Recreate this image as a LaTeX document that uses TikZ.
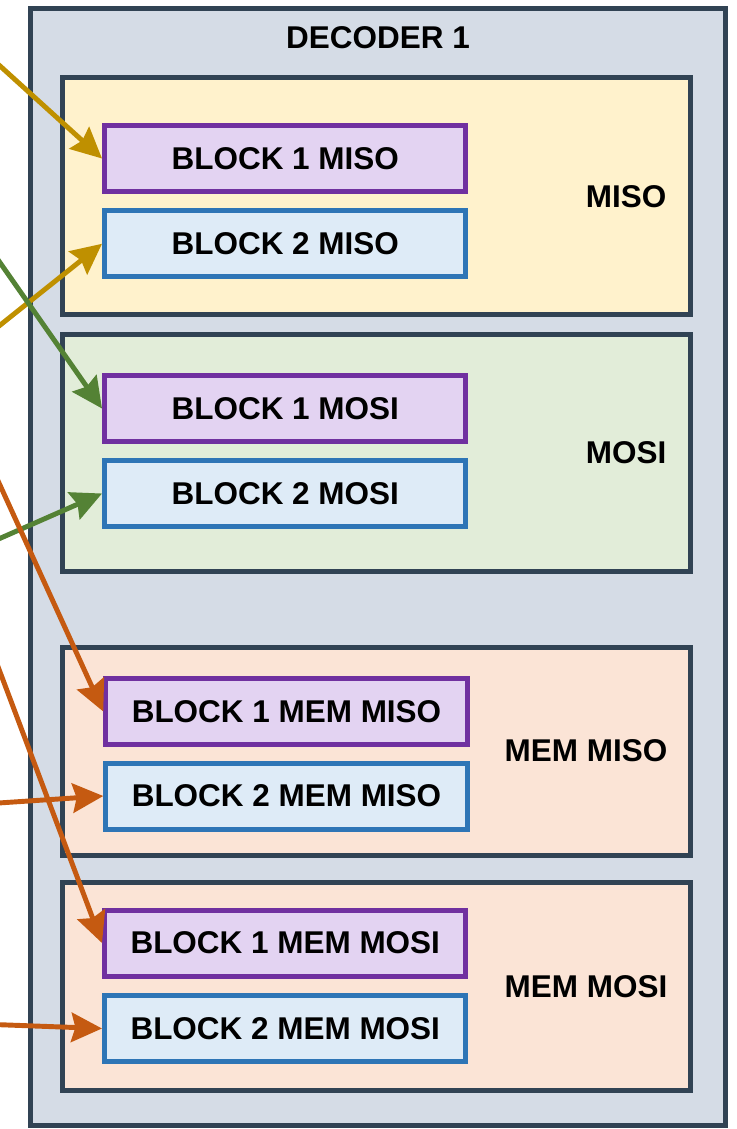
\documentclass[tikz,border=0pt]{standalone}
\usepackage{fontspec}
\setmainfont{Liberation Sans}
\usetikzlibrary{arrows.meta}

\definecolor{edge}{HTML}{314354}
\definecolor{decfill}{HTML}{D5DCE6}
\definecolor{misofill}{HTML}{FFF2CC}
\definecolor{mosifill}{HTML}{E2EDD9}
\definecolor{memfill}{HTML}{FBE4D6}
\definecolor{purpleedge}{HTML}{7030A0}
\definecolor{purplefill}{HTML}{E3D3F2}
\definecolor{blueedge}{HTML}{2E75B6}
\definecolor{bluefill}{HTML}{DEEBF7}
\definecolor{goldline}{HTML}{BF9000}
\definecolor{greenline}{HTML}{548235}
\definecolor{orangeline}{HTML}{C55A11}

\tikzset{
  lbl/.style={font=\fontsize{23.6}{28}\selectfont\bfseries, text=black},
  decoder/.style={draw=edge, fill=decfill, line width=3.75pt, inner sep=0pt,
    minimum width=521.6pt, minimum height=837.75pt},
  group/.style={draw=edge, line width=3.75pt, inner sep=0pt,
    minimum width=471pt},
  blockone/.style={lbl, draw=purpleedge, fill=purplefill, line width=3.75pt,
    inner sep=0pt, minimum width=271.1pt, minimum height=49.5pt},
  blocktwo/.style={lbl, draw=blueedge, fill=bluefill, line width=3.75pt,
    inner sep=0pt, minimum width=271.1pt, minimum height=49.5pt},
  link/.style={line width=3.7pt,
    -{Stealth[length=23pt, width=22pt, inset=3pt]}},
}

\begin{document}
\begin{tikzpicture}[x=0.75pt, y=-0.75pt]
\useasboundingbox (0,0) rectangle (737,1129);

% outer decoder frame
\node[decoder] (dec) at (378.25,566.5) {};
\node[lbl] (dectitle) at (378,38) {DECODER 1};

% signal groups
\node[group, fill=misofill, minimum height=178.1pt] (gmiso) at (376,196.25) {};
\node[group, fill=mosifill, minimum height=177.75pt] (gmosi) at (376,452.5) {};
\node[group, fill=memfill, minimum height=156pt] (gmemmiso) at (376,751) {};
\node[group, fill=memfill, minimum height=156pt] (gmemmosi) at (376,986) {};

\node[lbl, anchor=east] (tmiso) at (671,197) {MISO};
\node[lbl, anchor=east] (tmosi) at (671,453) {MOSI};
\node[lbl, anchor=east] (tmemmiso) at (672,751) {MEM MISO};
\node[lbl, anchor=east] (tmemmosi) at (672,987) {MEM MOSI};

% per-block registers
\node[blockone] (b1miso) at (285.25,158.5) {BLOCK 1 MISO};
\node[blocktwo] (b2miso) at (285.25,243.75) {BLOCK 2 MISO};
\node[blockone] (b1mosi) at (285.25,408.5) {BLOCK 1 MOSI};
\node[blocktwo] (b2mosi) at (285.25,493.5) {BLOCK 2 MOSI};
\node[blockone] (b1memmiso) at (286.5,711.5) {BLOCK 1 MEM MISO};
\node[blocktwo] (b2memmiso) at (286.5,796) {BLOCK 2 MEM MISO};
\node[blockone] (b1memmosi) at (285.25,943) {BLOCK 1 MEM MOSI};
\node[blocktwo] (b2memmosi) at (285.25,1028.5) {BLOCK 2 MEM MOSI};

% incoming lines from the left
\coordinate (in1) at (-6,60.5);
\coordinate (in2) at (-6,330);
\coordinate (in3) at (-6,254);
\coordinate (in4) at (-6,541);
\coordinate (in5) at (-6,472);
\coordinate (in6) at (-6,803.3);
\coordinate (in7) at (-6,656);
\coordinate (in8) at (-6,1024.5);

\draw[link, goldline] (in1) -- (b1miso.west);
\draw[link, goldline] (in2) -- (b2miso.west);
\draw[link, greenline] (in3) -- (b1mosi.west);
\draw[link, greenline] (in4) -- (b2mosi.west);
\draw[link, orangeline] (in5) -- (b1memmiso.west);
\draw[link, orangeline] (in6) -- (b2memmiso.west);
\draw[link, orangeline] (in7) -- (b1memmosi.west);
\draw[link, orangeline] (in8) -- (b2memmosi.west);
\end{tikzpicture}
\end{document}
